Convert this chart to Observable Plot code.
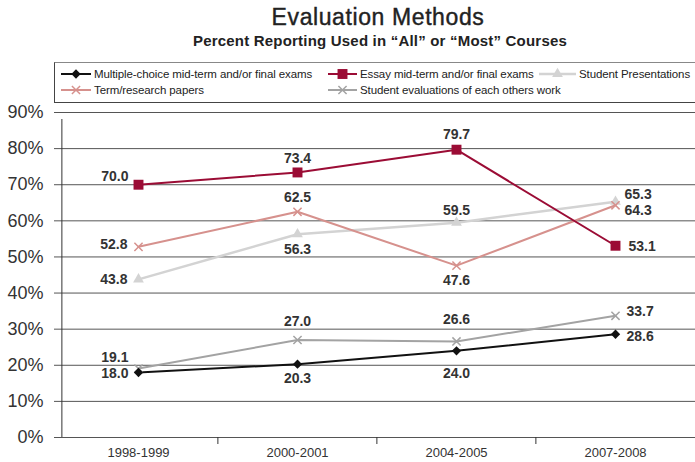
<!DOCTYPE html>
<html>
<head>
<meta charset="utf-8">
<script src="https://cdn.jsdelivr.net/npm/d3@7"></script>
<script src="https://cdn.jsdelivr.net/npm/@observablehq/plot@0.6"></script>
<style>
  html, body { margin: 0; padding: 0; background: #fff; }
  #chart { position: relative; width: 695px; height: 462px; overflow: hidden;
           font-family: 'Liberation Sans', Arial, Helvetica, sans-serif; color: #222; }
  #chart svg.plot { position: absolute; left: 0; top: 0; }
  .title { position: absolute; left: 378px; top: 6px; transform: translateX(-50%);
           font-size: 23px; line-height: 23px; letter-spacing: 0.6px; white-space: nowrap;
           -webkit-text-stroke: 0.4px #222; color: #222; }
  .subtitle { position: absolute; left: 380px; top: 33px; transform: translateX(-50%);
              font-size: 15px; line-height: 15px; letter-spacing: 0.2px; font-weight: bold;
              white-space: nowrap; color: #222; }
  .legend { position: absolute; left: 54px; top: 62px; width: 640px; height: 39px;
            border: 1px solid #444; border-top-color: #888; background: #fff; }
  .item { position: absolute; display: flex; align-items: center; height: 14px;
          font-size: 11.5px; line-height: 14px; letter-spacing: -0.1px; white-space: nowrap; color: #222; }
  .item svg { display: block; margin-right: 3px; }
</style>
</head>
<body>
<div id="chart">
  <div class="title">Evaluation Methods</div>
  <div class="subtitle">Percent Reporting Used in “All” or “Most” Courses</div>
  <div class="legend" id="legend"></div>
</div>
<script>
// Survey years (x categories)
const years = ["1998-1999", "2000-2001", "2004-2005", "2007-2008"];

// Percent of respondents using each method in "all" or "most" courses
const multipleChoice = [18.0, 20.3, 24.0, 28.6];
const essayExams = [70.0, 73.4, 79.7, 53.1];
const presentations = [43.8, 56.3, 59.5, 65.3];
const termPapers = [52.8, 62.5, 47.6, 64.3];
const peerEvaluations = [19.1, 27.0, 26.6, 33.7];

const seriesNames = [
  "Multiple-choice mid-term and/or final exams",
  "Essay mid-term and/or final exams",
  "Student Presentations",
  "Term/research papers",
  "Student evaluations of each others work"
];
const seriesValues = [multipleChoice, essayExams, presentations, termPapers, peerEvaluations];

// Y axis ticks (percent)
const yTicks = [0, 10, 20, 30, 40, 50, 60, 70, 80, 90];

// ---- Styling ----
const FONT = "'Liberation Sans', Arial, Helvetica, sans-serif";
const styles = [
  {color: "#111111", symbol: "diamond2", r: 4.2, width: 2, fill: true},
  {color: "#9b0c35", symbol: "square", r: 5.6, width: 2, fill: true},
  {color: "#d3d3d3", symbol: "triangle", r: 4.0, width: 2.5, fill: true},
  {color: "#d6918d", symbol: "times", r: 3.8, width: 2, fill: false},
  {color: "#a3a3a3", symbol: "times", r: 3.8, width: 2, fill: false}
];
// Value label placement per point: [dx, dy, anchor]
const labelPlacement = [
  [[-10, 1, "end"], [0, 14, "middle"], [0, 23, "middle"], [11, 2, "start"]],
  [[-10, -8, "end"], [0, -14, "middle"], [0, -15.5, "middle"], [13, 1, "start"]],
  [[-11, 0, "end"], [0, 15, "middle"], [0, -12.5, "middle"], [9, -7, "start"]],
  [[-11, -2, "end"], [0, -14, "middle"], [0, 15, "middle"], [9, 5, "start"]],
  [[-10, -11, "end"], [0, -18.5, "middle"], [0, -21.5, "middle"], [11, -4, "start"]]
];

// Layout
const W = 695, H = 462;
const mLeft = 61, mTop = 112, mBottom = 25;
const xRange = [58, 695];
const step = (xRange[1] - xRange[0]) / years.length;

// Long-form table
const rows = seriesNames.flatMap((name, s) =>
  seriesValues[s].map((v, i) => ({series: name, s, i, year: years[i], value: v}))
);

// draw order: lighter series first, essay on top
const drawOrder = [2, 3, 4, 0, 1];

const marks = [
  Plot.gridY(yTicks, {stroke: "#555", strokeOpacity: 1, strokeWidth: 1}),
  Plot.axisY(yTicks, {
    tickSize: 7, tickPadding: 11, tickFormat: d => d + "%",
    fontSize: 18, fill: "#333", stroke: "#555", label: null
  }),
  // vertical y axis line (extends slightly below the baseline)
  Plot.ruleX([years[0]], {
    dx: mLeft - (xRange[0] + step / 2), y1: 0, y2: 90, insetBottom: -7,
    stroke: "#333", strokeWidth: 1
  }),
  // boundary ticks between year categories
  Plot.axisX(years.slice(1), {
    tickSize: 7, dx: -step / 2, tickFormat: () => "", stroke: "#333", label: null
  }),
  Plot.axisX(years, {
    tickSize: 0, tickPadding: 10, fontSize: 13, fill: "#333", label: null
  })
];

for (const s of drawOrder) {
  const st = styles[s];
  const data = rows.filter(d => d.s === s);
  marks.push(Plot.line(data, {x: "year", y: "value", stroke: st.color, strokeWidth: st.width}));
}
for (const s of drawOrder) {
  const st = styles[s];
  const data = rows.filter(d => d.s === s);
  marks.push(Plot.dot(data, {
    x: "year", y: "value", symbol: () => st.symbol, r: st.r,
    fill: st.fill ? st.color : "none", stroke: st.color, strokeWidth: st.fill ? 0 : 1.5
  }));
}
for (const d of rows) {
  const [dx, dy, anchor] = labelPlacement[d.s][d.i];
  marks.push(Plot.text([d], {
    x: "year", y: "value", text: v => v.value.toFixed(1),
    dx, dy, textAnchor: anchor, fontSize: 14, fontWeight: "bold", fill: "#333"
  }));
}

const chart = Plot.plot({
  width: W, height: H,
  marginLeft: mLeft, marginRight: 0, marginTop: mTop, marginBottom: mBottom,
  x: {type: "point", domain: years, range: xRange, padding: 0.5},
  y: {domain: [0, 90]},
  symbol: {type: "identity"},
  style: {fontFamily: FONT, background: "#fff", overflow: "visible"},
  marks
});
chart.classList.add("plot");
document.getElementById("chart").prepend(chart);

// ---- Legend ----
const legendLayout = [
  {left: 6, top: 4, w: 30},
  {left: 273, top: 4, w: 29},
  {left: 484, top: 4, w: 37},
  {left: 6, top: 20, w: 30},
  {left: 273, top: 20, w: 29}
];
const d3Symbols = {
  diamond2: d3.symbolDiamond2, square: d3.symbolSquare,
  triangle: d3.symbolTriangle, times: d3.symbolTimes
};
const legend = d3.select("#legend");
seriesNames.forEach((name, s) => {
  const st = styles[s], pos = legendLayout[s];
  const item = legend.append("div").attr("class", "item")
    .style("left", pos.left + "px").style("top", pos.top + "px");
  const svg = item.append("svg").attr("width", pos.w).attr("height", 14);
  svg.append("line").attr("x1", 0).attr("x2", pos.w).attr("y1", 7).attr("y2", 7)
    .attr("stroke", st.color).attr("stroke-width", st.width);
  svg.append("path")
    .attr("transform", `translate(${pos.w / 2},7)`)
    .attr("d", d3.symbol(d3Symbols[st.symbol], Math.PI * st.r * st.r)())
    .attr("fill", st.fill ? st.color : "none")
    .attr("stroke", st.fill ? "none" : st.color)
    .attr("stroke-width", 1.5);
  item.append("span").text(name);
});
</script>
</body>
</html>
